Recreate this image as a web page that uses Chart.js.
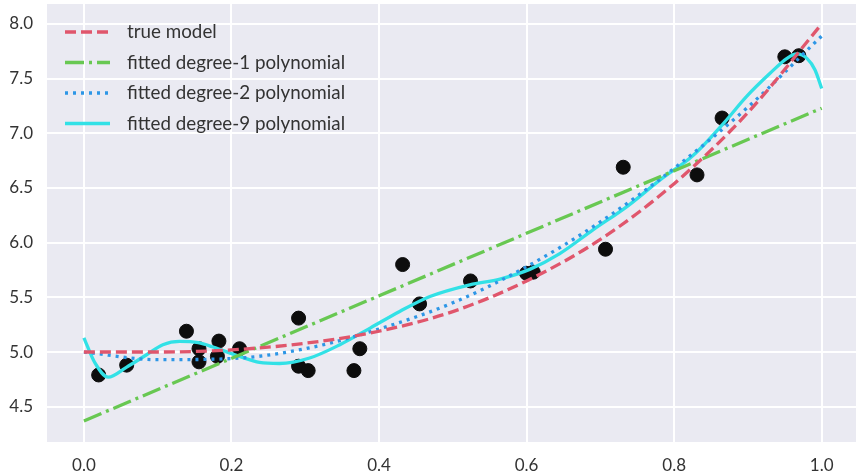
<!DOCTYPE html>
<html>
<head>
<meta charset="utf-8">
<script src="https://cdn.jsdelivr.net/npm/chart.js@4"></script>
<style>
  body { margin: 0; background: #ffffff; }
  canvas { display: block; }
</style>
</head>
<body>
<canvas id="grafico" width="856" height="476"></canvas>
<script>
// observed data points
var pontosX = [0.020, 0.058, 0.139, 0.156, 0.156, 0.183, 0.181, 0.211, 0.291, 0.291, 0.304, 0.374, 0.366, 0.455, 0.432, 0.524, 0.600, 0.609, 0.731, 0.707, 0.831, 0.865, 0.950, 0.969];
var pontosY = [4.79, 4.88, 5.19, 5.03, 4.91, 5.10, 4.96, 5.03, 5.31, 4.87, 4.83, 5.03, 4.83, 5.44, 5.80, 5.65, 5.72, 5.73, 6.69, 5.94, 6.62, 7.14, 7.70, 7.71];

// true model
var modeloX = [0, 0.1, 0.2, 0.3, 0.4, 0.5, 0.6, 0.7, 0.8, 0.9, 1.0];
var modeloY = [5.00, 5.00, 5.02, 5.08, 5.19, 5.37, 5.65, 6.03, 6.54, 7.19, 8.00];

// degree-1
var grau1X = [0, 1.0];
var grau1Y = [4.37, 7.23];

// degree-2
var grau2X = [0, 0.1, 0.2, 0.3, 0.4, 0.5, 0.6, 0.7, 0.8, 0.9, 1.0];
var grau2Y = [5.00, 4.93, 4.94, 5.03, 5.21, 5.45, 5.78, 6.19, 6.68, 7.24, 7.89];

// degree-9
var grau9X = [0, 0.015, 0.033, 0.0575, 0.085, 0.107, 0.13, 0.155, 0.175, 0.211, 0.238, 0.265, 0.306, 0.347, 0.388, 0.428, 0.469, 0.523, 0.564, 0.605, 0.645, 0.69, 0.736, 0.781, 0.826, 0.867, 0.898, 0.93, 0.953, 0.966, 0.98, 0.991, 1.0];
var grau9Y = [5.13, 4.90, 4.77, 4.86, 4.975, 5.067, 5.097, 5.085, 5.046, 4.96, 4.905, 4.895, 4.945, 5.067, 5.219, 5.371, 5.508, 5.615, 5.667, 5.758, 5.90, 6.117, 6.33, 6.574, 6.80, 7.092, 7.336, 7.549, 7.686, 7.726, 7.686, 7.58, 7.41];

var ticksX = [0.0, 0.2, 0.4, 0.6, 0.8, 1.0];
var ticksY = [4.5, 5.0, 5.5, 6.0, 6.5, 7.0, 7.5, 8.0];

function juntar(xs, ys){
    return xs.map(function(x, i){ return {x: x, y: ys[i]}; });
}

var fonte = "Lato, 'Open Sans', sans-serif";

// fundo cinza da area do grafico
var fundoPlugin = {
    id: 'fundo',
    beforeDraw: function(chart){
        var a = chart.chartArea, ctx = chart.ctx;
        ctx.save();
        ctx.fillStyle = '#eaeaf2';
        ctx.fillRect(a.left, a.top, a.right - a.left, a.bottom - a.top);
        ctx.restore();
    }
};

// legenda dentro do grafico
var legendaPlugin = {
    id: 'legenda',
    afterDatasetsDraw: function(chart){
        var ctx = chart.ctx;
        ctx.save();
        chart.data.datasets.forEach(function(ds, i){
            if(!ds.showLine) return;
            var y = 32 + i * 30.5;
            ctx.beginPath();
            ctx.setLineDash(ds.borderDash || []);
            ctx.strokeStyle = ds.borderColor;
            ctx.lineWidth = ds.borderWidth;
            ctx.moveTo(65, y);
            ctx.lineTo(110, y);
            ctx.stroke();
            ctx.setLineDash([]);
            ctx.fillStyle = '#333333';
            ctx.font = '18.8px ' + fonte;
            ctx.textBaseline = 'middle';
            ctx.fillText(ds.label, 127, y);
        });
        ctx.restore();
    }
};

var ctx = document.getElementById('grafico');
var grafico = new Chart(ctx, {
    type: 'scatter',
    data: {
        datasets: [
            {
                label: 'true model',
                data: juntar(modeloX, modeloY),
                showLine: true,
                borderColor: 'rgb(224,86,108)',
                borderWidth: 3.3,
                borderDash: [11, 5],
                pointRadius: 0,
                cubicInterpolationMode: 'monotone'
            },
            {
                label: 'fitted degree-1 polynomial',
                data: juntar(grau1X, grau1Y),
                showLine: true,
                borderColor: 'rgb(104,200,82)',
                borderWidth: 3.3,
                borderDash: [19, 5, 3, 5],
                pointRadius: 0
            },
            {
                label: 'fitted degree-2 polynomial',
                data: juntar(grau2X, grau2Y),
                showLine: true,
                borderColor: 'rgb(45,150,230)',
                borderWidth: 3.3,
                borderDash: [3, 5],
                pointRadius: 0,
                cubicInterpolationMode: 'monotone'
            },
            {
                label: 'fitted degree-9 polynomial',
                data: juntar(grau9X, grau9Y),
                showLine: true,
                borderColor: 'rgb(50,225,230)',
                borderWidth: 3.3,
                pointRadius: 0,
                cubicInterpolationMode: 'monotone'
            },
            {
                label: 'pontos',
                data: juntar(pontosX, pontosY),
                showLine: false,
                backgroundColor: '#0d0d0d',
                borderColor: '#0d0d0d',
                pointRadius: 7,
                pointHoverRadius: 7
            }
        ]
    },
    options: {
        responsive: false,
        animation: false,
        layout: { autoPadding: false, padding: { top: 4, right: 0, left: 0, bottom: 0 } },
        plugins: {
            legend: { display: false },
            tooltip: { enabled: false }
        },
        scales: {
            x: {
                type: 'linear',
                min: -0.05,
                max: 1.0465,
                afterBuildTicks: function(scale){
                    scale.ticks = ticksX.map(function(v){ return {value: v}; });
                },
                afterFit: function(scale){
                    scale.height = 34;
                    scale.paddingLeft = 0;
                    scale.paddingRight = 0;
                },
                grid: { color: '#ffffff', lineWidth: 2, drawTicks: false },
                border: { display: false },
                ticks: {
                    padding: 13,
                    color: '#333333',
                    font: { family: fonte, size: 17 },
                    maxRotation: 0,
                    callback: function(v){ return v.toFixed(1); }
                }
            },
            y: {
                type: 'linear',
                min: 4.177,
                max: 8.183,
                afterBuildTicks: function(scale){
                    scale.ticks = ticksY.map(function(v){ return {value: v}; });
                },
                afterFit: function(scale){
                    scale.width = 47;
                    scale.paddingTop = 0;
                    scale.paddingBottom = 0;
                },
                grid: { color: '#ffffff', lineWidth: 2, drawTicks: false },
                border: { display: false },
                ticks: {
                    padding: 14,
                    color: '#333333',
                    font: { family: fonte, size: 17 },
                    callback: function(v){ return v.toFixed(1); }
                }
            }
        }
    },
    plugins: [fundoPlugin, legendaPlugin]
});
</script>
</body>
</html>
